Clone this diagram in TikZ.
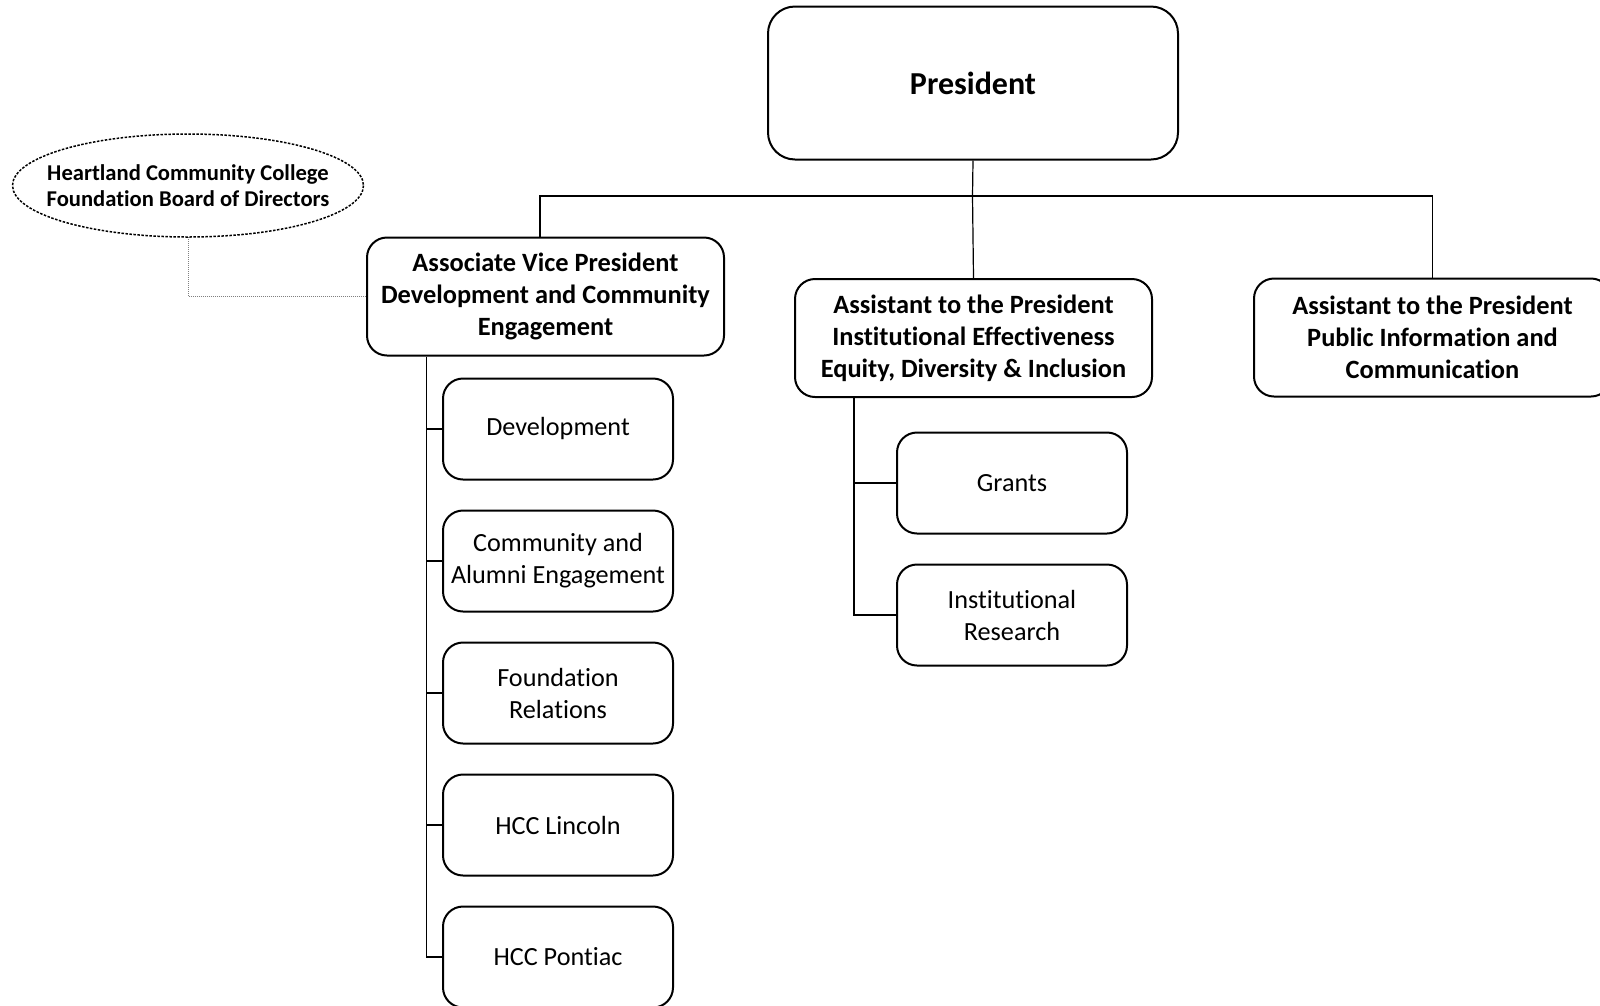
\documentclass[tikz,border=0pt]{standalone}
\usepackage{fontspec}
\setmainfont{Carlito}[Ligatures=NoCommon]
\usepackage{tikz}
\usetikzlibrary{calc}

\tikzset{
    chef/.style={draw, line width=2pt, rounded corners=20pt, inner sep=0pt,
        align=center, minimum width=357pt, minimum height=118pt,
        font=\fontsize{26.4}{32}\selectfont\bfseries},
    abt/.style={draw, line width=2pt, rounded corners=20pt, inner sep=0pt,
        align=center, minimum width=230pt, minimum height=101pt,
        font=\fontsize{26.2}{32}\selectfont},
    conn/.style={line width=1.2pt},
    stift/.style={line width=1.5pt, dash pattern=on 2.5pt off 1.5pt},
    gepunktet/.style={line width=1pt, gray, dash pattern=on 1pt off 1pt}
}

\begin{document}
\begin{tikzpicture}[x=1pt, y=-1pt]
        \useasboundingbox (0,0) rectangle (1600,1005);

        % Praesident
        \node[draw, line width=2pt, rounded corners=27pt, minimum width=410pt,
            minimum height=153pt, inner sep=0pt,
            font=\fontsize{32}{38}\selectfont\bfseries] (pres) at (973,83) {President};

        % Leitungsebene
        \node[chef] (avp) at (545.5,296.5) {Associate Vice President\\Development and Community\\Engagement};
        \node[chef] (iee) at (973.5,338) {Assistant to the President\\Institutional Effectiveness\\Equity, Diversity \& Inclusion};
        \node[chef] (pub) at (1432.5,337.5) {Assistant to the President\\Public Information and\\Communication};

        % Stiftung
        \node[align=center, inner sep=0pt, font=\fontsize{22.6}{26.5}\selectfont\bfseries]
            (fdn) at (188,185.5) {Heartland Community College\\Foundation Board of Directors};
        \draw[stift] (fdn.center) ellipse (175.5 and 51.5);
        \coordinate (fdnS) at ($(fdn.center)+(0,51.5)$);

        % Abteilungen AVP
        \node[abt] (dev) at (558,429) {Development};
        \node[abt] (cae) at (558,561) {Community and\\Alumni Engagement};
        \node[abt] (found) at (558,693) {Foundation\\Relations};
        \node[abt] (linc) at (558,825) {HCC Lincoln};
        \node[abt] (pont) at (558,957) {HCC Pontiac};

        % Abteilungen IEE
        \node[abt] (grants) at (1012,483) {Grants};
        \node[abt] (ires) at (1012,615) {Institutional\\Research};

        % Verbindungen
        \coordinate (bar) at (972.5,196);
        \draw[conn] (pres.south) -- (bar);
        \draw[conn] ([xshift=-5.5pt]avp.north) |- (bar) -| (pub.north);
        \draw[conn] (bar) -- (iee.north);

        \draw[conn] ([xshift=-119pt]avp.south) |- (pont.west);
        \foreach \n in {dev, cae, found, linc}
            \draw[conn] (\n.west) -- ++(-16.5,0);

        \draw[conn] ([xshift=-119.5pt]iee.south) |- (ires.west);
        \draw[conn] (grants.west) -- ++(-43,0);

        \draw[gepunktet] (fdnS) |- (avp.west);
    \end{tikzpicture}
\end{document}
